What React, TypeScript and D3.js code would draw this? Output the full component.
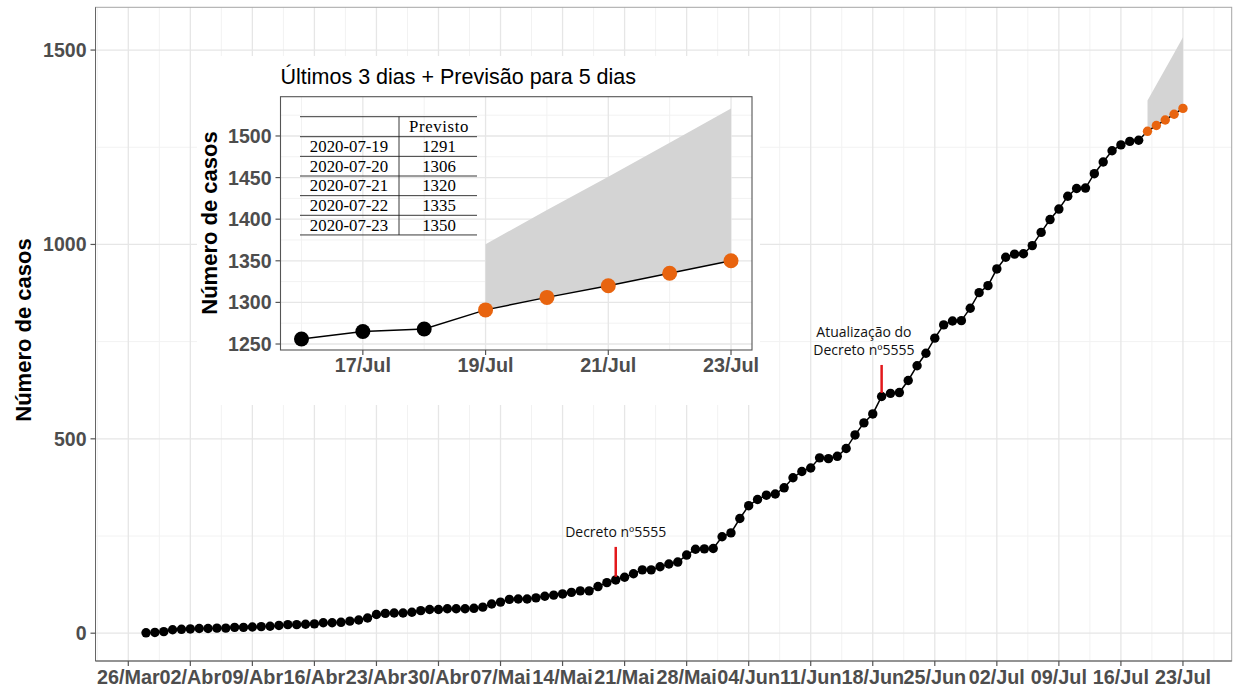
import React from "react";
import * as d3 from "d3";

// ---------------- DATA ----------------
const START = Date.UTC(2020, 2, 28); // 28/Mar/2020, first observed day
const CASES = [
  1, 2, 4, 9,
  10, 11, 12, 12, 13, 13, 15, 15, 16, 17,
  18, 20, 22, 22, 23, 24, 27, 27, 28, 31,
  34, 39, 48, 51, 52, 52, 54, 58, 61, 61,
  63, 63, 63, 64, 67, 75, 80, 87, 88, 88,
  91, 95, 98, 101, 105, 109, 109, 120, 130, 137,
  144, 153, 163, 163, 171, 178, 183, 201, 216, 217, 218,
  248, 258, 295, 328, 344, 355, 358, 374, 400, 416,
  425, 451, 449, 455, 475, 510, 541, 564, 609, 617,
  619, 650, 688, 720, 759, 793, 803, 804, 836, 876,
  894, 937, 967, 975, 976, 997, 1031, 1064, 1091, 1124,
  1144, 1145, 1182, 1212, 1241, 1256, 1265, 1268,
];
const FORECAST_DATES = ["2020-07-19", "2020-07-20", "2020-07-21", "2020-07-22", "2020-07-23"];
const FORECAST = [1291, 1306, 1320, 1335, 1350];
const FORECAST_UPPER = [1370, 1411, 1451, 1492, 1533];

const MAIN_TICK_LABELS = [
  "26/Mar", "02/Abr", "09/Abr", "16/Abr", "23/Abr", "30/Abr", "07/Mai", "14/Mai", "21/Mai",
  "28/Mai", "04/Jun", "11/Jun", "18/Jun", "25/Jun", "02/Jul", "09/Jul", "16/Jul", "23/Jul",
];
const MAIN_Y_TICKS = [0, 500, 1000, 1500];
const INSET_X_TICK_LABELS = ["17/Jul", "19/Jul", "21/Jul", "23/Jul"];
const INSET_Y_TICKS = [1250, 1300, 1350, 1400, 1450, 1500];

const ANNOTATIONS = [
  { date: "2020-05-20", textDate: "2020-05-20", lines: ["Decreto nº5555"], y0: 145, y1: 222 },
  { date: "2020-06-19", textDate: "2020-06-17", lines: ["Atualização do", "Decreto nº5555"], y0: 618, y1: 690 },
];

// ---------------- HELPERS ----------------
const DAY = 86400000;
const parse = (s: string) => {
  const [y, m, d] = s.split("-").map(Number);
  return new Date(Date.UTC(y, m - 1, d));
};
const observed = CASES.map((v, i) => ({ date: new Date(START + i * DAY), value: v }));
const forecast = FORECAST.map((v, i) => ({ date: parse(FORECAST_DATES[i]), value: v, upper: FORECAST_UPPER[i] }));
const allPts = [...observed, ...forecast.map((f) => ({ date: f.date, value: f.value }))];

const ORANGE = "#E8640F";
const RIBBON = "#D4D4D4";
const GRID_MAJ = "#e6e6e6";
const GRID_MIN = "#f2f2f2";
const LABEL = "#4d4d4d";
const SANS = "'Liberation Sans', Arial, Helvetica, sans-serif";

export default function App() {
  // ---------- main plot ----------
  const P = { left: 95.5, right: 1231.7, top: 7.3, bottom: 661 };
  const firstTick = new Date(Date.UTC(2020, 2, 26));
  const lastTick = new Date(Date.UTC(2020, 6, 23));
  const x = d3
    .scaleUtc()
    .domain([new Date(+firstTick - 3.7 * DAY), new Date(+lastTick + 5.5 * DAY)])
    .range([P.left, P.right]);
  const y = d3.scaleLinear().domain([-71.5, 1610]).range([P.bottom, P.top]);

  const majorX = d3.utcDay.range(firstTick, new Date(+lastTick + DAY), 7);
  const minorX = [new Date(+firstTick - 3.5 * DAY), ...majorX.map((d) => new Date(+d + 3.5 * DAY))].filter(
    (d) => x(d) > P.left && x(d) < P.right
  );
  const minorY = [250, 750, 1250];

  const line = d3
    .line<{ date: Date; value: number }>()
    .x((d) => x(d.date))
    .y((d) => y(d.value));
  const area = d3
    .area<{ date: Date; value: number; upper: number }>()
    .x((d) => x(d.date))
    .y0((d) => y(d.value))
    .y1((d) => y(d.upper));

  // ---------- inset ----------
  const I = { left: 280.5, right: 752, top: 96.7, bottom: 350 };
  const iStart = new Date(Date.UTC(2020, 6, 16));
  const iEnd = new Date(Date.UTC(2020, 6, 23));
  const ix = d3
    .scaleUtc()
    .domain([new Date(+iStart - 0.342 * DAY), new Date(+iEnd + 0.342 * DAY)])
    .range([I.left, I.right]);
  const iy = d3.scaleLinear().domain([1242.8, 1547.2]).range([I.bottom, I.top]);
  const iMajorX = INSET_X_TICK_LABELS.map((_, i) => new Date(Date.UTC(2020, 6, 17 + 2 * i)));
  const iMinorX = iMajorX.map((d) => new Date(+d - DAY));
  const iMinorY = INSET_Y_TICKS.map((t) => t + 25).filter((t) => iy(t) > I.top);
  const insetObs = observed.slice(-3);
  const insetPts = [...insetObs, ...forecast.map((f) => ({ date: f.date, value: f.value }))];
  const iline = d3
    .line<{ date: Date; value: number }>()
    .x((d) => ix(d.date))
    .y((d) => iy(d.value));
  const iarea = d3
    .area<{ date: Date; value: number; upper: number }>()
    .x((d) => ix(d.date))
    .y0((d) => iy(d.value))
    .y1((d) => iy(d.upper));

  // table layout
  const T = { left: 300, right: 477, sep: 399, top: 116.7, header: 136.7, rowH: 19.65 };
  const dateCx = 349;
  const valCx = 439;

  return (
    <svg
      width={1235}
      height={690}
      style={{ position: "absolute", left: 0, top: 0, background: "#fff" }}
      fontFamily={SANS}
    >
      <rect x={0} y={0} width={1235} height={690} fill="#fff" />
      {/* main panel gridlines */}
      {minorY.map((v) => (
        <line key={"mny" + v} x1={P.left} x2={P.right} y1={y(v)} y2={y(v)} stroke={GRID_MIN} strokeWidth={1} />
      ))}
      {minorX.map((d, i) => (
        <line key={"mnx" + i} x1={x(d)} x2={x(d)} y1={P.top} y2={P.bottom} stroke={GRID_MIN} strokeWidth={1} />
      ))}
      {MAIN_Y_TICKS.map((v) => (
        <line key={"mjy" + v} x1={P.left} x2={P.right} y1={y(v)} y2={y(v)} stroke={GRID_MAJ} strokeWidth={1.3} />
      ))}
      {majorX.map((d, i) => (
        <line key={"mjx" + i} x1={x(d)} x2={x(d)} y1={P.top} y2={P.bottom} stroke={GRID_MAJ} strokeWidth={1.3} />
      ))}

      {/* ribbon, line, points */}
      <path d={area(forecast) || ""} fill={RIBBON} />
      <path d={line(allPts) || ""} fill="none" stroke="#000" strokeWidth={1.5} />
      {observed.map((d, i) => (
        <circle key={"o" + i} cx={x(d.date)} cy={y(d.value)} r={4.7} fill="#000" />
      ))}
      {forecast.map((d, i) => (
        <circle key={"f" + i} cx={x(d.date)} cy={y(d.value)} r={4.7} fill={ORANGE} />
      ))}

      {/* annotations */}
      {ANNOTATIONS.map((a, i) => {
        const lx = x(parse(a.date));
        const tx = x(parse(a.textDate));
        const topY = y(a.y1);
        return (
          <g key={"ann" + i}>
            <line x1={lx} x2={lx} y1={y(a.y0)} y2={topY} stroke="#e3191c" strokeWidth={2.5} />
            {a.lines.map((t, j) => (
              <text
                key={j}
                x={tx}
                y={topY - 10 - (a.lines.length - 1 - j) * 18}
                textAnchor="middle"
                fontFamily="'Open Sans', sans-serif"
                fontSize={14}
                fill="#111"
              >
                {t}
              </text>
            ))}
          </g>
        );
      })}

      {/* main panel border & axes */}
      <rect x={P.left} y={P.top} width={P.right - P.left} height={P.bottom - P.top} fill="none" stroke="#a6a6a6" strokeWidth={1} />
      <line x1={P.left} x2={P.left} y1={P.top} y2={P.bottom} stroke="#666" strokeWidth={1} />
      <line x1={P.left} x2={P.right} y1={P.bottom} y2={P.bottom} stroke="#555" strokeWidth={1.2} />
      {MAIN_Y_TICKS.map((v) => (
        <g key={"yt" + v}>
          <line x1={P.left - 5} x2={P.left} y1={y(v)} y2={y(v)} stroke="#555" strokeWidth={1.2} />
          <text x={P.left - 9} y={y(v) + 7} textAnchor="end" fontSize={19.5} fontWeight="bold" fill={LABEL}>
            {v}
          </text>
        </g>
      ))}
      {majorX.map((d, i) => (
        <g key={"xt" + i}>
          <line x1={x(d)} x2={x(d)} y1={P.bottom} y2={P.bottom + 5} stroke="#555" strokeWidth={1.2} />
          <text x={x(d)} y={P.bottom + 23} textAnchor="middle" fontSize={19.8} fontWeight="bold" fill={LABEL}>
            {MAIN_TICK_LABELS[i]}
          </text>
        </g>
      ))}
      <text
        transform={`translate(31, 330) rotate(-90)`}
        textAnchor="middle"
        fontSize={22}
        fontWeight="bold"
        fill="#000"
      >
        Número de casos
      </text>

      {/* ---------------- INSET ---------------- */}
      <rect x={197} y={56} width={563} height={349} fill="#fff" />
      <text x={I.left} y={84} fontSize={21.5} fill="#000">
        Últimos 3 dias + Previsão para 5 dias
      </text>
      {iMinorY.map((v) => (
        <line key={"imy" + v} x1={I.left} x2={I.right} y1={iy(v)} y2={iy(v)} stroke={GRID_MIN} strokeWidth={1} />
      ))}
      {iMinorX.map((d, i) => (
        <line key={"imx" + i} x1={ix(d)} x2={ix(d)} y1={I.top} y2={I.bottom} stroke={GRID_MIN} strokeWidth={1} />
      ))}
      {INSET_Y_TICKS.map((v) => (
        <line key={"ijy" + v} x1={I.left} x2={I.right} y1={iy(v)} y2={iy(v)} stroke={GRID_MAJ} strokeWidth={1.3} />
      ))}
      {iMajorX.map((d, i) => (
        <line key={"ijx" + i} x1={ix(d)} x2={ix(d)} y1={I.top} y2={I.bottom} stroke={GRID_MAJ} strokeWidth={1.3} />
      ))}
      <path d={iarea(forecast) || ""} fill={RIBBON} />
      <path d={iline(insetPts) || ""} fill="none" stroke="#000" strokeWidth={1.4} />
      {insetObs.map((d, i) => (
        <circle key={"io" + i} cx={ix(d.date)} cy={iy(d.value)} r={7.5} fill="#000" />
      ))}
      {forecast.map((d, i) => (
        <circle key={"if" + i} cx={ix(d.date)} cy={iy(d.value)} r={7.5} fill={ORANGE} />
      ))}

      {/* table */}
      <g fontFamily="'Liberation Serif', 'DejaVu Serif', serif" fontSize={16.8} fill="#000">
        <line x1={T.left} x2={T.right} y1={T.top} y2={T.top} stroke="#222" strokeWidth={0.9} />
        <line x1={T.left} x2={T.right} y1={T.header} y2={T.header} stroke="#222" strokeWidth={0.9} />
        <line x1={T.sep} x2={T.sep} y1={T.top} y2={T.header + FORECAST.length * T.rowH} stroke="#222" strokeWidth={0.9} />
        <text x={valCx} y={(T.top + T.header) / 2 + 5.5} textAnchor="middle" letterSpacing={0.6}>
          Previsto
        </text>
        {FORECAST.map((v, i) => {
          const yb = T.header + (i + 1) * T.rowH;
          const cy = yb - T.rowH / 2;
          return (
            <g key={"tr" + i}>
              <line x1={T.left} x2={T.right} y1={yb} y2={yb} stroke="#222" strokeWidth={0.9} />
              <text x={dateCx} y={cy + 5.5} textAnchor="middle">
                {FORECAST_DATES[i]}
              </text>
              <text x={valCx} y={cy + 5.5} textAnchor="middle">
                {v}
              </text>
            </g>
          );
        })}
      </g>

      {/* inset border and axes */}
      <rect x={I.left} y={I.top} width={I.right - I.left} height={I.bottom - I.top} fill="none" stroke="#555" strokeWidth={1.1} />
      {INSET_Y_TICKS.map((v) => (
        <g key={"iyt" + v}>
          <line x1={I.left - 5} x2={I.left} y1={iy(v)} y2={iy(v)} stroke="#555" strokeWidth={1.2} />
          <text x={I.left - 9} y={iy(v) + 7} textAnchor="end" fontSize={19.5} fontWeight="bold" fill={LABEL}>
            {v}
          </text>
        </g>
      ))}
      {iMajorX.map((d, i) => (
        <g key={"ixt" + i}>
          <line x1={ix(d)} x2={ix(d)} y1={I.bottom} y2={I.bottom + 5} stroke="#555" strokeWidth={1.2} />
          <text x={ix(d)} y={I.bottom + 22} textAnchor="middle" fontSize={19.8} fontWeight="bold" fill={LABEL}>
            {INSET_X_TICK_LABELS[i]}
          </text>
        </g>
      ))}
      <text
        transform={`translate(217, 223) rotate(-90)`}
        textAnchor="middle"
        fontSize={22}
        fontWeight="bold"
        fill="#000"
      >
        Número de casos
      </text>
    </svg>
  );
}
